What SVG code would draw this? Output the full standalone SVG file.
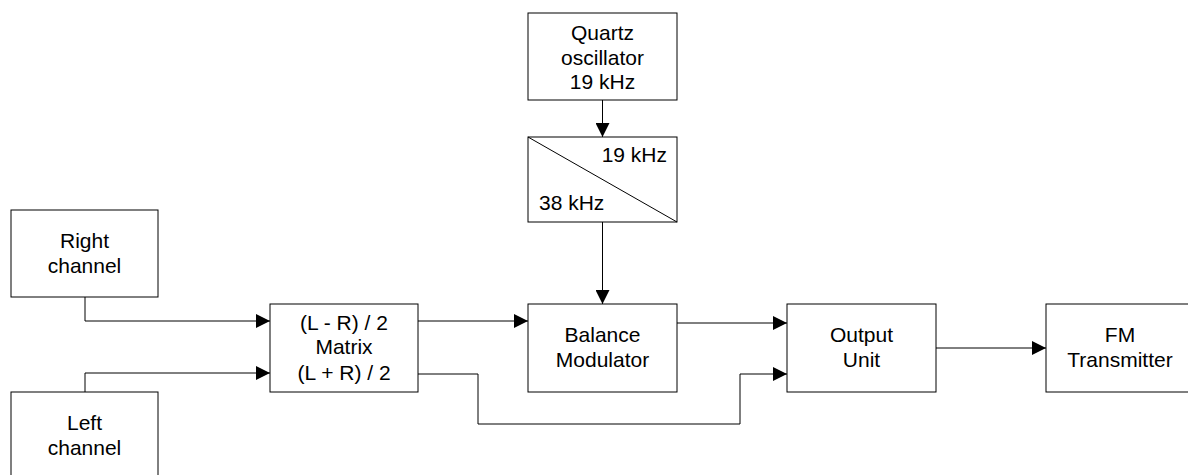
<svg xmlns="http://www.w3.org/2000/svg" width="1188" height="475" viewBox="0 0 1188 475">
<style>
.box{fill:#fff;stroke:#000;stroke-width:1}
.t{font-family:"Liberation Sans",Arial,sans-serif;font-size:21px;fill:#000;text-anchor:middle}
.c{fill:none;stroke:#000;stroke-width:1}
</style>
<defs>
<marker id="ah" viewBox="0 0 10 10" refX="10" refY="5" markerWidth="14" markerHeight="14" markerUnits="userSpaceOnUse" orient="auto">
<path d="M0,0 L10,5 L0,10 Z" fill="#000"/>
</marker>
</defs>
<rect width="1188" height="475" fill="#fff"/>
<g id="quartz">
<rect class="box" x="528" y="13" width="149" height="87"/>
<text class="t" x="602.5" y="40">Quartz</text>
<text class="t" x="602.5" y="65">oscillator</text>
<text class="t" x="602.5" y="89">19 kHz</text>
</g>
<g id="divider">
<rect class="box" x="528" y="137" width="149" height="85"/>
<line class="c" x1="528" y1="137" x2="677" y2="222"/>
<text class="t" x="667" y="162" style="text-anchor:end">19 kHz</text>
<text class="t" x="539" y="210" style="text-anchor:start">38 kHz</text>
</g>
<g id="right">
<rect class="box" x="11" y="210" width="147" height="87"/>
<text class="t" x="84.5" y="248">Right</text>
<text class="t" x="84.5" y="273">channel</text>
</g>
<g id="left">
<rect class="box" x="11" y="392" width="147" height="87"/>
<text class="t" x="84.5" y="430">Left</text>
<text class="t" x="84.5" y="455">channel</text>
</g>
<g id="matrix">
<rect class="box" x="270" y="304" width="148" height="88"/>
<text class="t" x="344" y="330">(L - R) / 2</text>
<text class="t" x="344" y="354">Matrix</text>
<text class="t" x="344" y="380">(L + R) / 2</text>
</g>
<g id="balance">
<rect class="box" x="528" y="304" width="149" height="88"/>
<text class="t" x="602.5" y="342">Balance</text>
<text class="t" x="602.5" y="367">Modulator</text>
</g>
<g id="output">
<rect class="box" x="787" y="304" width="149" height="88"/>
<text class="t" x="861.5" y="342">Output</text>
<text class="t" x="861.5" y="367">Unit</text>
</g>
<g id="fm">
<rect class="box" x="1046" y="304" width="148" height="88"/>
<text class="t" x="1120" y="342">FM</text>
<text class="t" x="1120" y="367">Transmitter</text>
</g>
<g id="connectors">
<path class="c" d="M602.5,100 V137" marker-end="url(#ah)"/>
<path class="c" d="M602.5,222 V304" marker-end="url(#ah)"/>
<path class="c" d="M85,297 V321 H270" marker-end="url(#ah)"/>
<path class="c" d="M85,392 V373 H270" marker-end="url(#ah)"/>
<path class="c" d="M418,321 H528" marker-end="url(#ah)"/>
<path class="c" d="M418,374 H478 V424 H740 V374 H787" marker-end="url(#ah)"/>
<path class="c" d="M677,323 H787" marker-end="url(#ah)"/>
<path class="c" d="M936,348 H1046" marker-end="url(#ah)"/>
</g>
</svg>
